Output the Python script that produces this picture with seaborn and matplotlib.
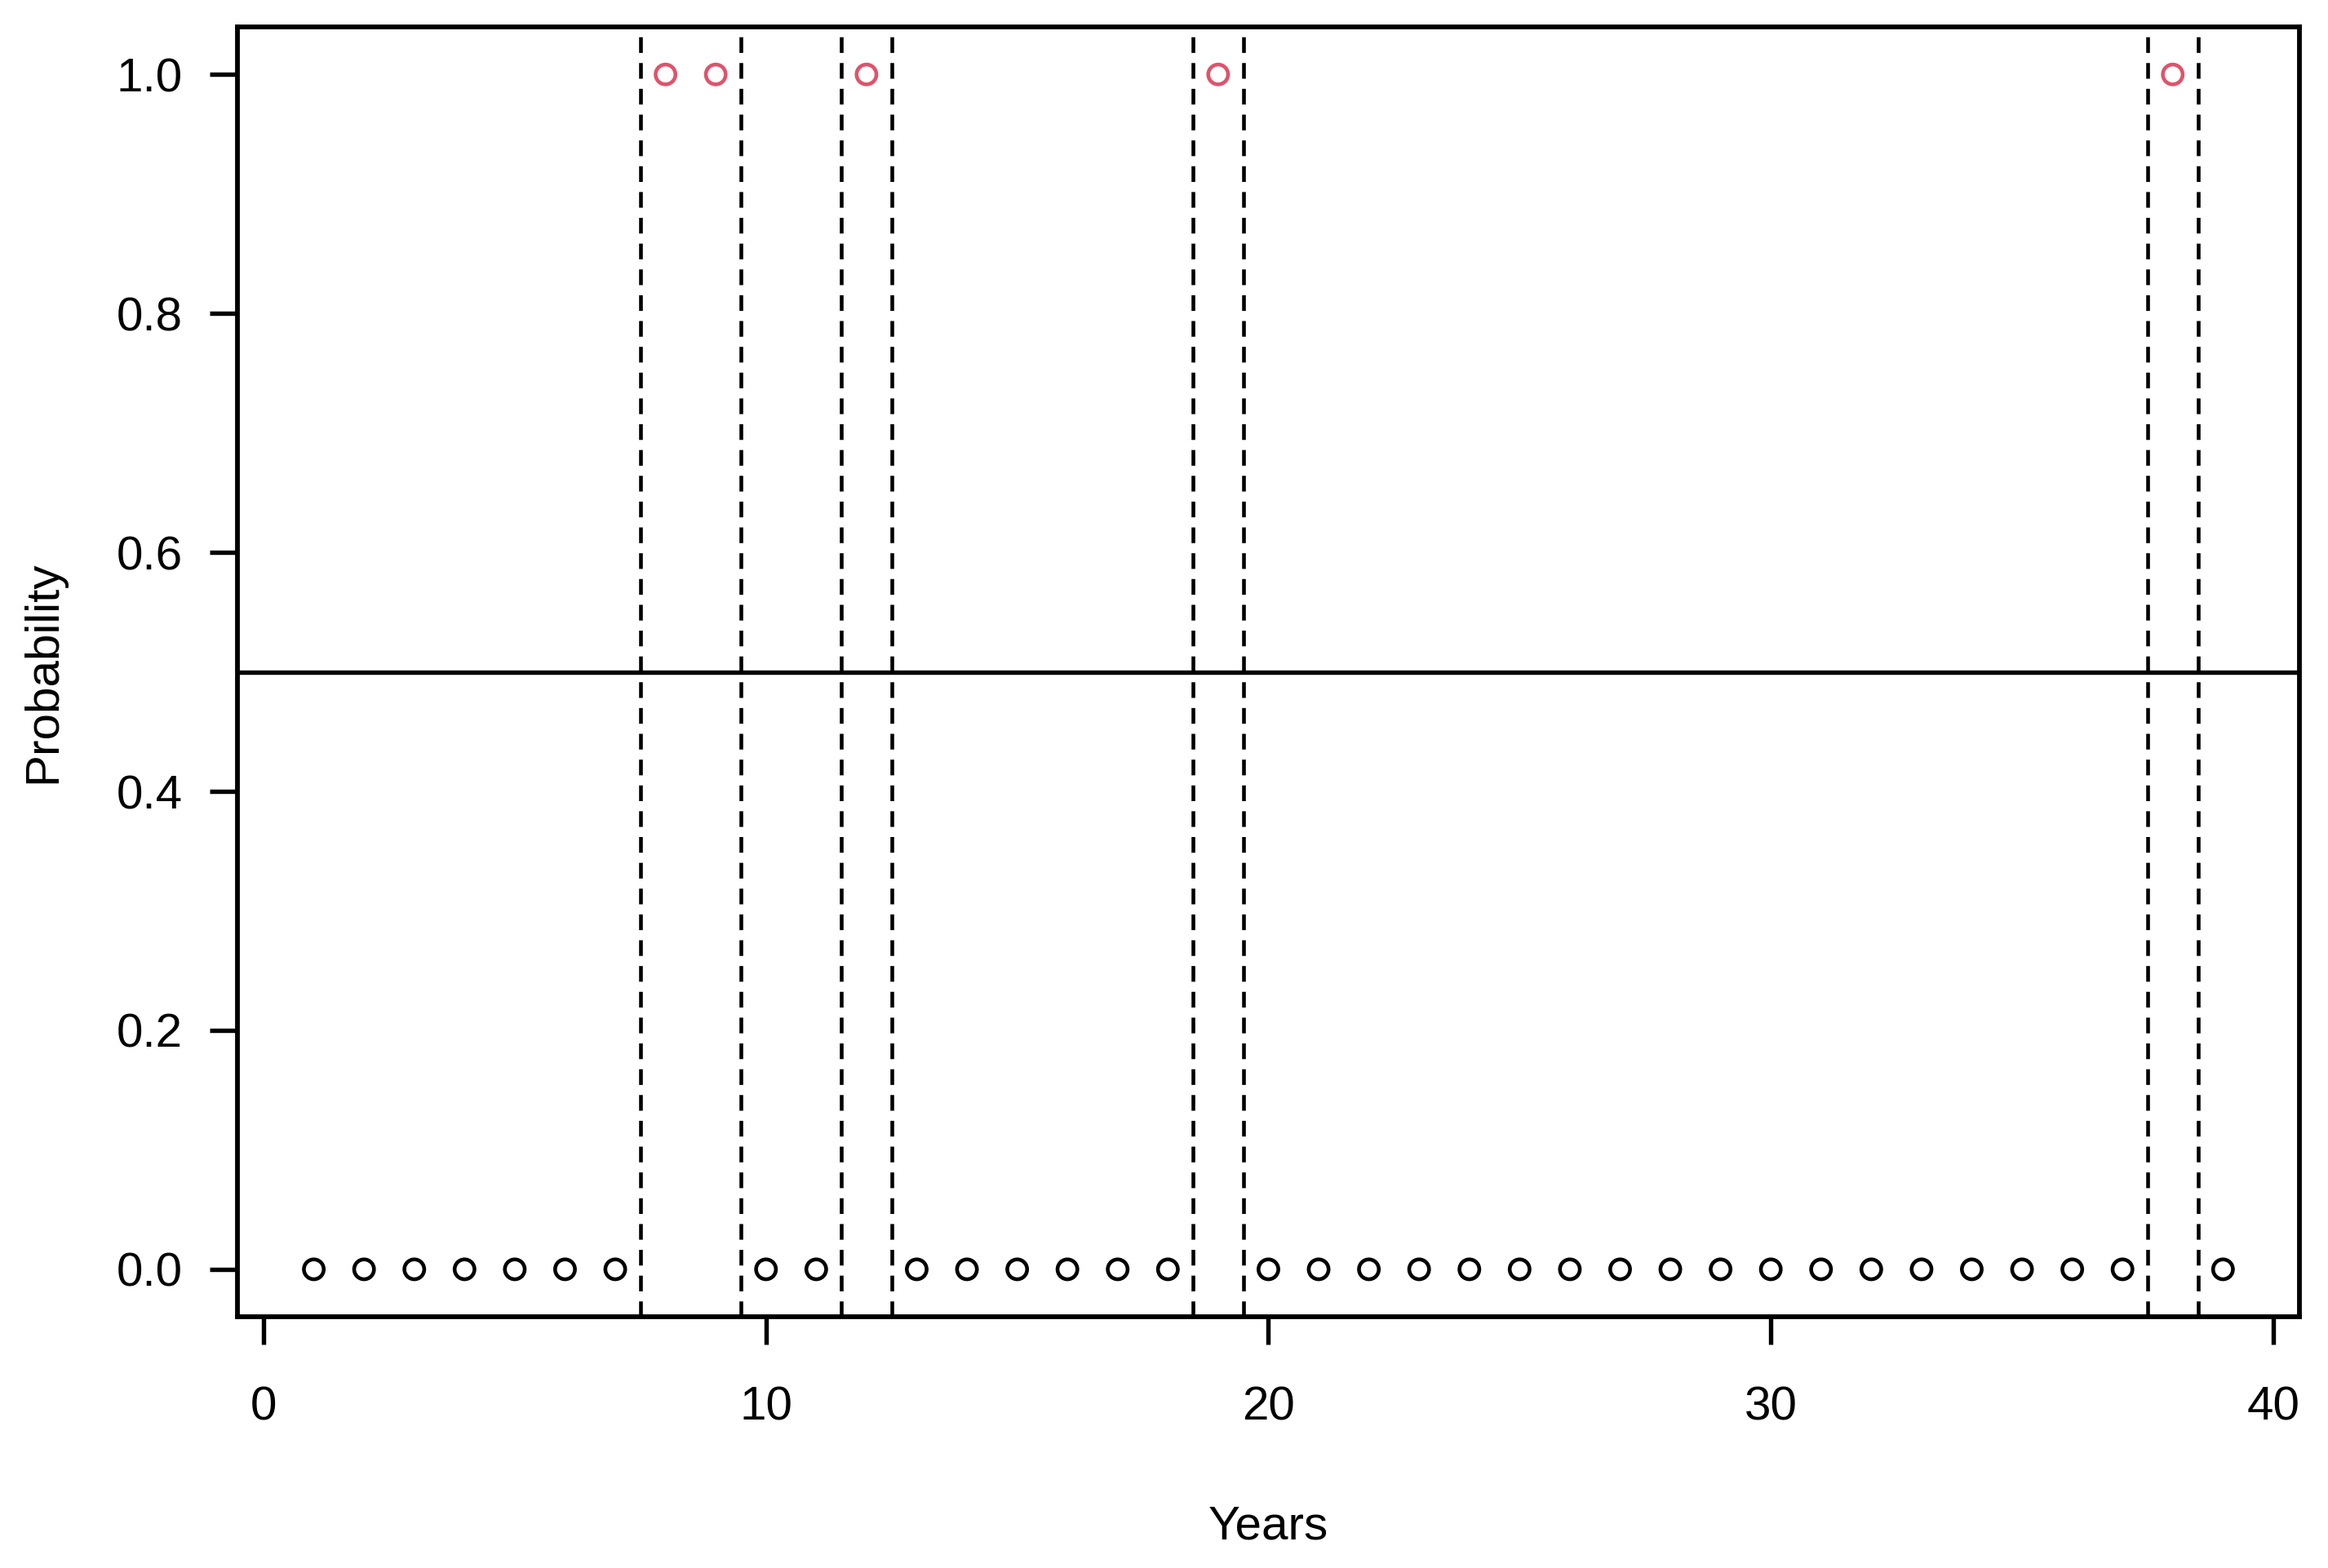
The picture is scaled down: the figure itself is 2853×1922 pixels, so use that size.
import matplotlib
matplotlib.use("Agg")
import matplotlib.pyplot as plt
import seaborn as sns
import pandas as pd

sns.set_style("ticks")
plt.rcParams['font.family'] = ['Liberation Sans', 'DejaVu Sans']
plt.rcParams['text.color'] = 'black'
plt.rcParams['axes.labelcolor'] = 'black'
plt.rcParams['xtick.color'] = 'black'
plt.rcParams['ytick.color'] = 'black'

# data
years = [1, 2, 3, 4, 5, 6, 7, 8, 9, 10, 11, 12, 13, 14, 15, 16, 17, 18, 19, 20,
         21, 22, 23, 24, 25, 26, 27, 28, 29, 30, 31, 32, 33, 34, 35, 36, 37, 38, 39]
prob = [0, 0, 0, 0, 0, 0, 0, 1, 1, 0, 0, 1, 0, 0, 0, 0, 0, 0, 1, 0,
        0, 0, 0, 0, 0, 0, 0, 0, 0, 0, 0, 0, 0, 0, 0, 0, 0, 1, 0]
breaks = [7.5, 9.5, 11.5, 12.5, 18.5, 19.5, 37.5, 38.5]
threshold = 0.5
xticks = [0, 10, 20, 30, 40]
yticks = [0.0, 0.2, 0.4, 0.6, 0.8, 1.0]

df = pd.DataFrame({"Years": years, "Probability": prob})
df["cls"] = df["Probability"].astype(int)

fig = plt.figure(figsize=(2853 / 300, 1922 / 300), dpi=300)
ax = fig.add_axes([0.102, 0.160, 0.8857, 0.823])

sns.scatterplot(data=df, x="Years", y="Probability", hue="cls",
                palette={0: "black", 1: "#DF536B"}, s=34, legend=False, ax=ax, zorder=3)
coll = ax.collections[0]
coll.set_edgecolors(coll.get_facecolors())
coll.set_facecolor("none")
coll.set_linewidth(1.1)

for b in breaks:
    ax.axvline(b, color="black", lw=1.1, linestyle=(0, (4.2, 2.7)))
ax.axhline(threshold, color="black", lw=1.3)

ax.set_xlim(-0.52, 40.52)
ax.set_ylim(-0.04, 1.04)
ax.set_xticks(xticks)
ax.set_xticklabels([str(t) for t in xticks])
ax.set_yticks(yticks)
ax.set_yticklabels([f"{t:.1f}" for t in yticks])
ax.tick_params(axis="both", length=8.2, width=1.3, labelsize=14, color="black", labelcolor="black")
ax.tick_params(axis="x", pad=12)
ax.tick_params(axis="y", pad=8)
for sp in ax.spines.values():
    sp.set_visible(True)
    sp.set_linewidth(1.4)
    sp.set_color("black")

ax.set_xlabel("Years", fontsize=14, labelpad=22, color="black")
ax.set_ylabel("Probability", fontsize=14, labelpad=15, color="black")

fig.savefig("out.png", dpi=300)
